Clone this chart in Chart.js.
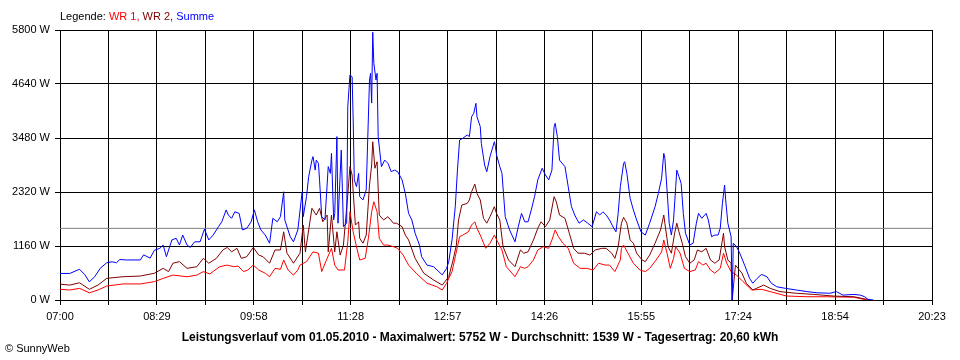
<!DOCTYPE html>
<html>
<head>
<meta charset="utf-8">
<title>Leistungsverlauf</title>
<script src="https://cdn.jsdelivr.net/npm/chart.js@4.4.0/dist/chart.umd.min.js"></script>
<style>
    body { margin: 0; background: #fff; }
    .wrap { position: relative; width: 960px; height: 360px; font-family: 'Liberation Sans', Arial, sans-serif; font-size: 11px; color: #000; }
    #powerChart { position: absolute; left: 0; top: 0; }
    .legend { position: absolute; left: 60px; top: 10px; white-space: nowrap; }
    .footer { position: absolute; left: 0; top: 330px; width: 960px; text-align: center; font-weight: bold; font-size: 12px; white-space: nowrap; }
    .copy { position: absolute; left: 5px; top: 342px; white-space: nowrap; }
</style>
</head>
<body>
<div class="wrap">
    <canvas id="powerChart" width="960" height="360"></canvas>
    <div class="legend">Legende: <span style="color:#ff0000">WR 1,</span> <span style="color:#800000">WR 2,</span> <span style="color:#0000ff">Summe</span></div>
    <div class="footer">Leistungsverlauf vom 01.05.2010 - Maximalwert: 5752 W - Durchschnitt: 1539 W - Tagesertrag: 20,60 kWh</div>
    <div class="copy">© SunnyWeb</div>
</div>
<script>
// Axis labels
const xTickLabels = ['07:00', '08:29', '09:58', '11:28', '12:57', '14:26', '15:55', '17:24', '18:54', '20:23'];
const yMax = 5800;
const yStep = 1160;
const averageWatts = 1539;

// Summe (blue)
const sumTimes = ['07:00','07:09','07:18','07:23','07:27','07:32','07:37','07:43','07:48','07:52','07:55','08:01','08:14','08:17','08:23','08:27','08:32','08:35','08:38','08:43','08:47','08:50','08:53','08:57','09:00','09:04','09:09','09:13','09:17','09:21','09:26','09:29','09:33','09:35','09:38','09:41','09:45','09:48','09:52','09:56','09:59','10:02','10:05','10:09','10:13','10:16','10:20','10:23','10:26','10:27','10:32','10:35','10:39','10:43','10:44','10:47','10:49','10:52','10:53','10:55','10:56','10:58','10:59','11:01','11:04','11:07','11:09','11:10','11:12','11:13','11:15','11:16','11:19','11:21','11:24','11:25','11:27','11:29','11:30','11:31','11:33','11:35','11:36','11:39','11:42','11:45','11:46','11:47','11:48','11:49','11:51','11:52','11:53','11:56','11:59','12:02','12:05','12:08','12:11','12:15','12:18','12:21','12:24','12:27','12:31','12:33','12:38','12:44','12:52','12:56','12:58','13:01','13:04','13:06','13:08','13:11','13:15','13:17','13:19','13:21','13:23','13:24','13:27','13:28','13:31','13:33','13:36','13:40','13:41','13:42','13:45','13:47','13:50','13:54','13:59','14:02','14:05','14:08','14:11','14:14','14:17','14:20','14:24','14:27','14:30','14:33','14:35','14:36','14:38','14:40','14:45','14:48','14:51','14:54','14:58','15:02','15:06','15:10','15:14','15:17','15:20','15:23','15:26','15:30','15:32','15:34','15:36','15:39','15:40','15:42','15:45','15:48','15:51','15:55','15:59','16:03','16:08','16:11','16:14','16:16','16:17','16:19','16:21','16:23','16:25','16:27','16:28','16:30','16:32','16:34','16:36','16:40','16:43','16:46','16:48','16:51','16:55','16:57','17:00','17:03','17:06','17:08','17:10','17:12','17:13','17:15','17:18','17:19','17:20','17:23','17:26','17:31','17:35','17:38','17:42','17:46','17:51','17:55','18:00','18:08','18:18','18:28','18:37','18:49','18:55','19:01','19:11','19:17','19:21','19:24','19:29'];
const sumWatts = [570,570,660,540,390,500,680,800,820,800,870,860,860,970,900,1070,1110,1180,930,1290,1325,1180,1395,1180,1130,1250,1250,1520,1290,1395,1575,1680,1935,1825,1755,1895,1860,1505,1540,1680,1935,1680,1505,1395,1220,1755,1680,1790,2325,1720,1360,1250,1505,2325,1790,2220,2650,3005,3080,2790,3005,2935,2580,1790,1720,2865,2720,3150,1720,1860,3510,1650,3220,1575,1650,4150,4835,4795,3865,2580,2435,2720,2220,2150,2365,4725,4870,4230,5752,5085,4725,4870,3510,2865,3005,2935,2755,2790,2755,2580,2290,1860,1720,1435,1180,930,750,715,540,680,825,1290,2005,2790,3435,3475,3545,3510,3935,4010,4225,3935,3725,3365,2900,2755,3080,3400,3295,3115,2865,2720,1790,1505,1250,1575,1860,1680,1680,1935,2220,2580,2830,2685,2580,2790,3725,3795,3510,3005,2865,2435,2005,1825,1650,1720,1650,1575,1895,1825,1895,1825,1720,1540,1465,1860,2435,2935,2970,2720,2185,1935,1720,1465,1395,1650,2005,2290,2615,3150,3045,2365,1650,1395,1720,2435,2790,2650,2505,1860,1435,1180,1220,1650,1860,1755,1860,1720,1360,1395,1395,1540,2075,2470,2150,1650,1360,0,1220,1145,1005,715,465,360,465,550,500,360,285,250,215,180,155,145,180,105,120,105,70,15,0];

// WR 2 (dark red)
const wr2Times = ['07:00','07:09','07:18','07:27','07:35','07:43','07:58','08:14','08:27','08:35','08:40','08:44','08:50','08:57','09:06','09:12','09:17','09:24','09:30','09:34','09:38','09:43','09:47','09:52','09:58','10:03','10:07','10:13','10:18','10:23','10:26','10:29','10:35','10:41','10:44','10:46','10:52','10:56','10:59','11:02','11:06','11:07','11:10','11:13','11:15','11:18','11:21','11:25','11:27','11:29','11:32','11:35','11:36','11:39','11:42','11:45','11:47','11:48','11:50','11:52','11:54','11:58','12:02','12:07','12:10','12:15','12:18','12:21','12:27','12:35','12:44','12:52','12:58','13:02','13:05','13:07','13:10','13:15','13:17','13:19','13:22','13:24','13:27','13:30','13:33','13:36','13:40','13:42','13:45','13:48','13:53','13:59','14:04','14:07','14:11','14:16','14:20','14:23','14:27','14:31','14:35','14:37','14:40','14:45','14:49','14:53','14:57','15:03','15:08','15:13','15:19','15:23','15:28','15:31','15:34','15:37','15:39','15:42','15:45','15:48','15:51','15:56','15:59','16:03','16:08','16:13','16:16','16:17','16:20','16:23','16:26','16:28','16:30','16:33','16:36','16:40','16:44','16:47','16:51','16:55','16:59','17:03','17:07','17:11','17:12','17:15','17:18','17:19','17:22','17:28','17:32','17:38','17:48','17:54','18:03','18:18','18:34','18:52','19:11','19:23','19:26'];
const wr2Watts = [340,320,370,230,320,465,500,515,575,680,610,790,825,680,715,895,790,895,1075,1130,1035,1110,895,930,1130,965,930,790,1075,1075,1465,1005,790,1005,1610,1035,1970,1825,1970,1680,1825,1035,1825,1035,1465,965,1180,2255,2865,2685,1610,1680,1325,1220,1395,2470,2900,3400,2830,2970,1825,1720,1790,1650,1650,1575,1395,1290,895,575,430,320,500,860,1180,1720,2040,2075,2150,2325,2490,2290,2150,1755,1650,1790,2005,1860,1720,1145,860,715,1075,1005,1035,1290,1540,1680,1575,1720,2220,2110,1825,1755,1435,1110,1005,1005,965,1075,1110,1110,1005,895,1145,1650,1775,1650,1290,1220,1005,860,825,965,1220,1505,1825,1650,1145,1005,1435,1650,1465,1220,930,790,860,1075,1035,1110,860,790,860,1435,1145,860,790,0,750,575,360,215,320,250,180,145,120,85,70,15,0];

// WR 1 (red)
const wr1Times = ['07:00','07:09','07:18','07:27','07:35','07:43','07:58','08:14','08:27','08:35','08:44','08:57','09:06','09:12','09:18','09:27','09:34','09:40','09:44','09:49','09:53','09:58','10:03','10:09','10:13','10:18','10:23','10:26','10:30','10:35','10:39','10:41','10:47','10:53','10:58','11:01','11:06','11:10','11:13','11:16','11:22','11:25','11:27','11:30','11:33','11:36','11:41','11:44','11:47','11:49','11:52','11:54','11:58','12:02','12:07','12:11','12:16','12:21','12:28','12:38','12:47','12:52','12:56','13:01','13:04','13:08','13:11','13:16','13:19','13:22','13:24','13:27','13:32','13:36','13:40','13:43','13:47','13:51','13:59','14:04','14:08','14:11','14:16','14:20','14:25','14:30','14:33','14:36','14:39','14:43','14:48','14:53','14:59','15:05','15:11','15:16','15:22','15:26','15:31','15:36','15:37','15:39','15:43','15:48','15:54','15:59','16:03','16:09','16:14','16:16','16:19','16:22','16:25','16:27','16:31','16:35','16:40','16:45','16:48','16:52','16:55','16:59','17:03','17:08','17:11','17:14','17:18','17:23','17:29','17:37','17:46','17:54','18:09','18:28','18:46','19:11','19:23'];
const wr1Watts = [230,215,250,155,215,300,345,345,395,465,535,500,535,610,560,715,750,715,730,610,645,750,645,575,500,680,660,860,645,535,645,750,825,1035,1005,610,895,1110,750,645,645,1250,1895,1465,1145,860,895,1325,1895,2110,1895,1325,1180,1180,1145,1110,965,750,575,360,285,215,360,610,930,1360,1395,1465,1610,1680,1540,1395,1110,1220,1395,1250,1075,715,500,715,680,715,860,1075,1145,1110,1290,1505,1360,1220,1110,790,680,680,645,790,750,750,610,860,1110,1180,1005,790,645,610,680,860,1035,1290,1005,680,895,1145,1005,680,610,645,825,750,790,645,575,680,1005,790,610,535,395,215,230,180,85,70,70,60,0];

function toMinutes(label) {
    const parts = label.split(':');
    return parseInt(parts[0], 10) * 60 + parseInt(parts[1], 10);
}

function toPoints(times, watts) {
    return times.map((t, i) => ({ x: toMinutes(t), y: watts[i] }));
}

const xMin = toMinutes(xTickLabels[0]);
const xMax = toMinutes(xTickLabels[xTickLabels.length - 1]);
const xDivisions = (xTickLabels.length - 1) * 2;

const ctx = document.getElementById('powerChart').getContext('2d');
const powerChart = new Chart(ctx, {
    type: 'line',
    data: {
        datasets: [
            {
                label: 'Summe',
                data: toPoints(sumTimes, sumWatts),
                borderColor: '#0000ff',
                order: 1
            },
            {
                label: 'WR 2',
                data: toPoints(wr2Times, wr2Watts),
                borderColor: '#800000',
                order: 2
            },
            {
                label: 'WR 1',
                data: toPoints(wr1Times, wr1Watts),
                borderColor: '#ff0000',
                order: 3
            },
            {
                label: 'Durchschnitt',
                data: [{ x: xMin, y: averageWatts }, { x: xMax, y: averageWatts }],
                borderColor: '#808080',
                order: 4
            }
        ]
    },
    options: {
        responsive: false,
        animation: false,
        devicePixelRatio: 1,
        layout: {
            padding: { left: 0, right: 28, top: 30, bottom: 0 }
        },
        elements: {
            point: { radius: 0 },
            line: { borderWidth: 1, tension: 0, fill: false }
        },
        plugins: {
            legend: { display: false },
            tooltip: { enabled: false }
        },
        scales: {
            x: {
                type: 'linear',
                min: xMin,
                max: xMax,
                afterBuildTicks: function(scale) {
                    const ticks = [];
                    for (let i = 0; i <= xDivisions; i++) {
                        ticks.push({ value: xMin + i * (xMax - xMin) / xDivisions });
                    }
                    scale.ticks = ticks;
                },
                afterFit: function(scale) {
                    scale.height = 60;
                },
                grid: {
                    color: '#000000',
                    lineWidth: 1,
                    tickLength: 5,
                    tickColor: '#000000'
                },
                border: { color: '#000000', width: 1 },
                ticks: {
                    autoSkip: false,
                    maxRotation: 0,
                    padding: 5,
                    color: '#000000',
                    font: { family: "'Liberation Sans', Arial, sans-serif", size: 11 },
                    callback: function(value, index) {
                        return index % 2 === 0 ? xTickLabels[index / 2] : '';
                    }
                }
            },
            y: {
                min: 0,
                max: yMax,
                afterFit: function(scale) {
                    scale.width = 60;
                },
                grid: {
                    color: '#000000',
                    lineWidth: 1,
                    tickLength: 5,
                    tickColor: '#000000'
                },
                border: { color: '#000000', width: 1 },
                ticks: {
                    stepSize: yStep,
                    padding: 5,
                    color: '#000000',
                    font: { family: "'Liberation Sans', Arial, sans-serif", size: 11 },
                    callback: function(value) {
                        return value + ' W';
                    }
                }
            }
        }
    }
});
</script>
</body>
</html>
